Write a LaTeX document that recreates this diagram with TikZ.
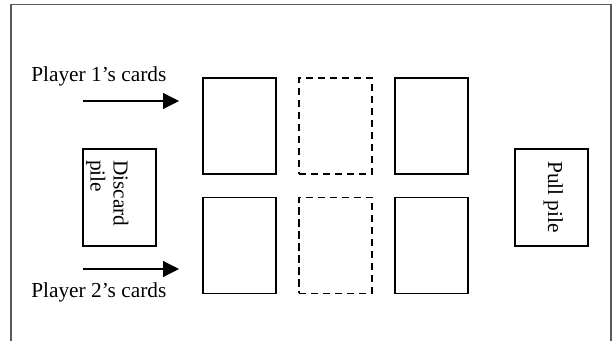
\documentclass[tikz,border=0pt]{standalone}
\usepackage{fontspec}
\setmainfont{Liberation Serif}
\usetikzlibrary{arrows.meta}
\begin{document}
\begin{tikzpicture}[x=0.75pt,y=-0.75pt,
  card/.style={draw=black,line width=1pt,minimum width=54.75pt,minimum height=72pt,inner sep=0pt},
  emptycard/.style={card,dash pattern=on 5.5pt off 3.5pt},
  pilebox/.style={draw=black,line width=1pt,minimum width=54.75pt,minimum height=72.75pt,inner sep=0pt},
  lbl/.style={font=\fontsize{16}{18}\selectfont,inner sep=0pt},
  vlbl/.style={lbl,rotate=-90,anchor=base west},
  arr/.style={line width=0.9pt,-{Triangle[length=12pt,width=12pt]}},
  frame/.style={draw=black!65,line width=0.8pt}]
\useasboundingbox (0,0) rectangle (613,341);
% outer frame (open at the bottom)
\draw[frame] (11,341) -- (11,4.5) -- (611,4.5) -- (611,341);
% cards
\node[card] (c11) at (239.5,126) {};
\node[emptycard] (c12) at (335.5,126) {};
\node[card] (c13) at (431.5,126) {};
\node[card] (c21) at (239.5,245.5) {};
\node[emptycard] (c22) at (335.5,245.5) {};
\node[card] (c23) at (431.5,245.5) {};
% piles
\node[pilebox] (discard) at (119.5,197.5) {};
\node[vlbl] (discardA) at (113.5,160) {Discard};
\node[vlbl] (discardB) at (90.5,160) {pile};
\node[pilebox] (pull) at (551.5,197.5) {};
\node[vlbl] (pullT) at (548,161) {Pull pile};
% player labels and arrows
\node[lbl,anchor=base west] (p1) at (31,81.7) {Player 1’s cards};
\node[lbl,anchor=base west] (p2) at (31,297.3) {Player 2’s cards};
\coordinate (a1s) at (82.5,101);
\coordinate (a1e) at (179,101);
\coordinate (a2s) at (82.5,269);
\coordinate (a2e) at (179,269);
\draw[arr] (a1s) -- (a1e);
\draw[arr] (a2s) -- (a2e);
\end{tikzpicture}
\end{document}
